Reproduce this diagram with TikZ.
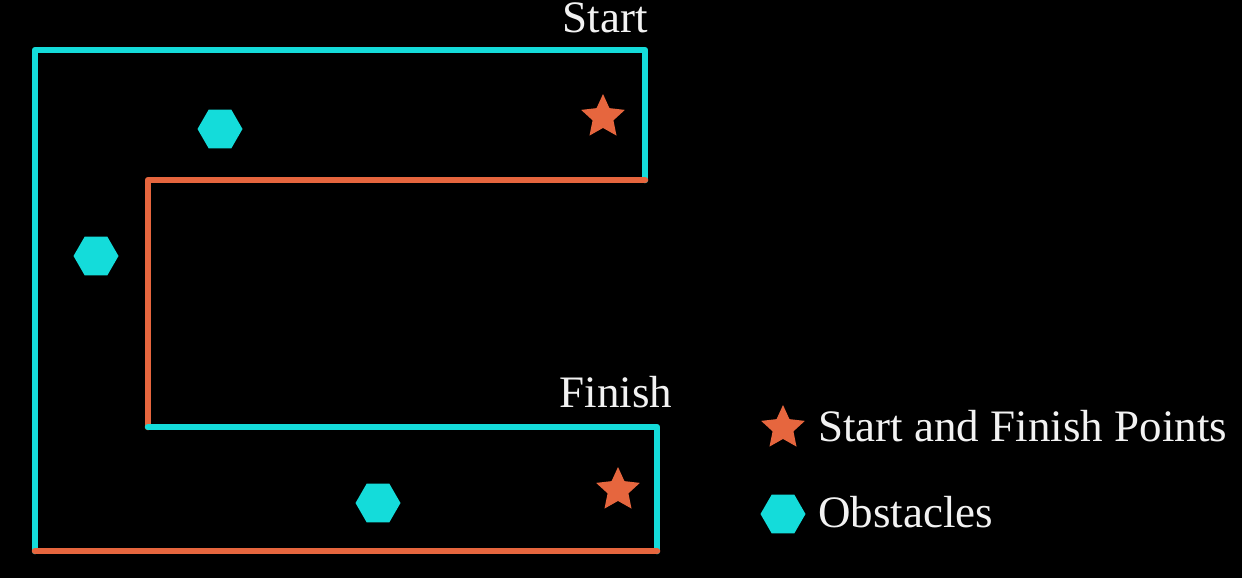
\documentclass[tikz,border=0pt]{standalone}
\usepackage{fontspec}
\setmainfont{Liberation Serif}
\usepackage{tikz}
\usetikzlibrary{shapes.geometric, positioning}

\definecolor{wallcyan}{RGB}{20,220,218}
\definecolor{pathorange}{RGB}{230,102,62}
\definecolor{textwhite}{RGB}{242,242,242}

\begin{document}
\begin{tikzpicture}[x=1pt, y=-1pt,
    cyanwall/.style={draw=wallcyan, line width=6.5pt, line cap=round, line join=round},
    orangewall/.style={draw=pathorange, line width=6.5pt, line cap=round, line join=round},
    goal/.style={star, star points=5, star point ratio=2.1, minimum size=46pt, inner sep=0pt, fill=pathorange},
    obstacle/.style={regular polygon, regular polygon sides=6, minimum size=45pt, inner sep=0pt, fill=wallcyan},
    label/.style={text=textwhite, font=\fontsize{45}{50}\selectfont, inner sep=0pt}]
          \fill[black] (0,0) rectangle (1242,578);

          \coordinate (bl) at (35,551);
          \coordinate (tl) at (35,50);
          \coordinate (tr) at (645,50);
          \coordinate (ur) at (645,180);
          \coordinate (ul) at (148,180);
          \coordinate (ll) at (148,427);
          \coordinate (lr) at (657,427);
          \coordinate (br) at (657,551);

          \path [cyanwall] (bl) -- (tl) -- (tr) -- (ur);
          \path [orangewall] (ur) -- (ul) -- (ll);
          \path [cyanwall] (ll) -- (lr) -- (br);
          \path [orangewall] (br) -- (bl);

          \node (s1) [goal] at (603,117) {};
          \node (s2) [goal] at (618,490) {};

          \node (h1) [obstacle] at (220,129) {};
          \node (h2) [obstacle] at (96,256) {};
          \node (h3) [obstacle] at (378,503) {};

          \node (start) [label, anchor=base] at (605,33) {Start};
          \node (finish) [label, anchor=base] at (616,407) {Finish};

          % legend
          \node (keystar) [goal] at (783,428) {};
          \node (keyhex) [obstacle] at (783,514) {};
          \node (keytext1) [label, anchor=base west] at (818,441) {Start and Finish Points};
          \node (keytext2) [label, anchor=base west] at (818,527) {Obstacles};
\end{tikzpicture}
\end{document}
